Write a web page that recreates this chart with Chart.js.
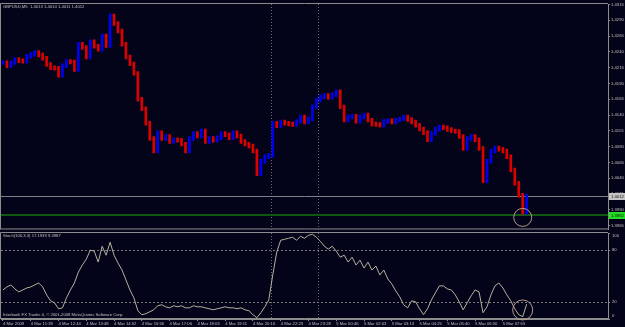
<!DOCTYPE html>
<html>
<head>
<meta charset="utf-8">
<script src="https://cdn.jsdelivr.net/npm/chart.js@4.4.1/dist/chart.umd.min.js"></script>
<style>
  html, body { margin: 0; padding: 0; background: #03031a; }
  #wrap { position: relative; width: 625px; height: 327px; background: #03031a; overflow: hidden; }
  #priceChart { position: absolute; left: 0; top: 0; }
  #stochChart { position: absolute; left: 0; top: 232px; }
</style>
</head>
<body>
<div id="wrap">
  <canvas id="priceChart" width="625" height="233"></canvas>
  <canvas id="stochChart" width="625" height="95"></canvas>
</div>
<script>
// GBPUSD M5 closes, one per slot
const closes = [
  1.4223, 1.4218, 1.4223, 1.4228, 1.4226, 1.4225, 1.4233, 1.4236, 1.4239, 1.4235,
  1.4230, 1.4220, 1.4215, 1.4214, 1.4203, 1.4218, 1.4225, 1.4224, 1.4212, 1.4252,
  1.4247, 1.4232, 1.4256, 1.4249, 1.4244, 1.4265, 1.4250, 1.4297, 1.4285, 1.4273,
  1.4252, 1.4232, 1.4221, 1.4206, 1.4165, 1.4150, 1.4127, 1.4103, 1.4083, 1.4112,
  1.4103, 1.4106, 1.4098, 1.4101, 1.4100, 1.4094, 1.4083, 1.4103, 1.4111, 1.4107,
  1.4115, 1.4098, 1.4103, 1.4100, 1.4104, 1.4111, 1.4109, 1.4104, 1.4112, 1.4107,
  1.4098, 1.4094, 1.4091, 1.4083, 1.4047, 1.4067, 1.4074, 1.4076, 1.4127, 1.4123,
  1.4129, 1.4127, 1.4126, 1.4125, 1.4130, 1.4137, 1.4129, 1.4134, 1.4153, 1.4164,
  1.4169, 1.4171, 1.4168, 1.4172, 1.4177, 1.4153, 1.4132, 1.4137, 1.4138, 1.4130,
  1.4137, 1.4140, 1.4132, 1.4126, 1.4125, 1.4124, 1.4130, 1.4131, 1.4129, 1.4132,
  1.4134, 1.4137, 1.4133, 1.4129, 1.4124, 1.4118, 1.4112, 1.4101, 1.4111, 1.4118,
  1.4121, 1.4120, 1.4117, 1.4115, 1.4114, 1.4106, 1.4087, 1.4103, 1.4106, 1.4101,
  1.4087, 1.4036, 1.4067, 1.4083, 1.4088, 1.4086, 1.4083, 1.4074, 1.4053, 1.4032,
  1.4013, 1.3986, 1.4012
];

// Stochastic(100,3,3) main line
const stochMain = [
  33.8, 37.3, 39.6, 35.0, 31.5, 33.8, 36.1, 37.3, 39.6, 41.9,
  37.3, 28.1, 21.1, 18.8, 11.9, 13.0, 24.6, 33.8, 41.9, 54.6,
  62.7, 69.6, 80.0, 78.9, 66.2, 84.6, 74.2, 89.3, 74.2, 65.0,
  56.9, 45.4, 33.8, 24.6, 9.6, 5.0, 6.1, 8.4, 10.7, 15.4,
  16.5, 14.2, 13.0, 15.4, 14.2, 15.4, 13.0, 13.0, 15.4, 14.2,
  14.2, 13.0, 11.9, 10.7, 11.9, 13.0, 14.2, 13.0, 13.0, 11.9,
  13.0, 10.7, 9.6, 5.0, 1.5, 7.3, 14.2, 22.3, 51.2, 77.7,
  91.6, 92.7, 93.9, 95.0, 91.6, 96.2, 93.9, 97.3, 98.5, 95.0,
  90.4, 84.6, 81.2, 84.6, 78.9, 71.9, 74.2, 66.2, 71.9, 62.7,
  68.5, 59.2, 66.2, 56.9, 61.5, 51.2, 56.9, 46.5, 40.8, 32.7,
  25.8, 16.5, 13.0, 21.1, 20.0, 11.9, 5.0, 11.9, 22.3, 30.4,
  38.5, 38.5, 35.0, 33.8, 28.1, 20.0, 10.7, 18.8, 26.9, 33.8,
  31.5, 7.3, 14.2, 28.1, 38.5, 41.9, 36.1, 28.1, 21.1, 11.9,
  5.0, 2.7, 17.2
];

const timeLabels = [
  '4 Mar 2009', '4 Mar 11:39', '4 Mar 12:44', '4 Mar 13:48', '4 Mar 14:52',
  '4 Mar 15:56', '4 Mar 17:00', '4 Mar 18:05', '4 Mar 19:11', '4 Mar 20:16',
  '4 Mar 22:23', '4 Mar 23:28', '5 Mar 00:46', '5 Mar 02:03', '5 Mar 03:13',
  '5 Mar 04:25', '5 Mar 05:40', '5 Mar 06:50', '5 Mar 07:55'
];
const labelEvery = 7;
const slotCount = 153;

const priceTicks = [1.3965, 1.3990, 1.4015, 1.4040, 1.4065, 1.4090, 1.4115, 1.4140,
                    1.4165, 1.4190, 1.4215, 1.4240, 1.4265, 1.4290, 1.4315];
const stochTicks = [0, 20, 80, 100];
const stochLevels = [20, 80];

const bidPrice = 1.4012;
const supportPrice = 1.3982;
const separatorsAfter = [67, 79];
const priceMark = { index: 131, value: 1.3978 };
const stochMark = { index: 131, value: 10.5 };

const headerText = 'GBPUSD,M5  1.4013 1.4014 1.4011 1.4012';
const stochText = 'Stoch(100,3,3) 17.1939 9.3987';
const copyText = 'Interbank FX Trader 4, \u00a9 2001-2008 MetaQuotes Software Corp.';

const FONT = '"Liberation Sans", Arial, sans-serif';
const SMALL = '4.2px ' + FONT;
const TXT = '#c0c0c0';
const AXIS = '#8c8c8c';

const categories = Array.from({ length: slotCount }, (_, i) =>
  i % labelEvery === 0 ? (timeLabels[i / labelEvery] || '') : '');

const barRanges = closes.map((c, i) => {
  const o = i ? closes[i - 1] : c;
  return [Math.min(o, c) - 0.0003, Math.max(o, c) + 0.0003];
});
const barColors = closes.map((c, i) => (i && c < closes[i - 1]) ? '#dd0000' : '#0000ee');

function drawSeparators(chart) {
  const ctx = chart.ctx, x = chart.scales.x, a = chart.chartArea;
  ctx.save();
  ctx.strokeStyle = '#6e6e5c';
  ctx.setLineDash([1, 2]);
  separatorsAfter.forEach(i => {
    const px = Math.round((x.getPixelForValue(i) + x.getPixelForValue(i + 1)) / 2) + 0.5;
    ctx.beginPath(); ctx.moveTo(px, a.top); ctx.lineTo(px, a.bottom); ctx.stroke();
  });
  ctx.restore();
}

function drawFrame(chart) {
  const ctx = chart.ctx, a = chart.chartArea;
  ctx.save();
  ctx.strokeStyle = AXIS;
  ctx.lineWidth = 1;
  ctx.beginPath();
  ctx.moveTo(a.left - 0.5, a.top - 0.5); ctx.lineTo(a.right, a.top - 0.5);
  ctx.moveTo(a.left - 0.5, a.top - 0.5); ctx.lineTo(a.left - 0.5, a.bottom);
  ctx.moveTo(a.left - 0.5, a.bottom - 0.5); ctx.lineTo(a.right, a.bottom - 0.5);
  ctx.stroke();
  ctx.restore();
}

function drawRing(chart, mark, yKey, r) {
  const ctx = chart.ctx;
  const px = chart.scales.x.getPixelForValue(mark.index);
  const py = chart.scales[yKey].getPixelForValue(mark.value);
  ctx.save();
  ctx.strokeStyle = '#b49c86';
  ctx.lineWidth = 1;
  ctx.beginPath(); ctx.arc(px, py, r, 0, Math.PI * 2); ctx.stroke();
  ctx.restore();
}

const priceOverlay = {
  id: 'priceOverlay',
  beforeDatasetsDraw(chart) {
    const ctx = chart.ctx, a = chart.chartArea, y = chart.scales.y;
    drawSeparators(chart);
    ctx.save();
    const yb = Math.round(y.getPixelForValue(bidPrice)) + 0.5;
    ctx.strokeStyle = '#7c8088';
    ctx.beginPath(); ctx.moveTo(a.left, yb); ctx.lineTo(a.right, yb); ctx.stroke();
    const ys = Math.round(y.getPixelForValue(supportPrice));
    ctx.strokeStyle = '#0f5a10';
    ctx.lineWidth = 2;
    ctx.beginPath(); ctx.moveTo(a.left, ys); ctx.lineTo(a.right, ys); ctx.stroke();
    ctx.restore();
  },
  afterDraw(chart) {
    const ctx = chart.ctx, a = chart.chartArea, y = chart.scales.y;
    drawFrame(chart);
    drawRing(chart, priceMark, 'y', 9);
    ctx.save();
    ctx.font = SMALL;
    ctx.textBaseline = 'middle';
    ctx.fillStyle = TXT;
    ctx.fillText(headerText, 3, a.top + 3);
    [[bidPrice, '#c4c4c4'], [supportPrice, '#22e022']].forEach(([v, bg]) => {
      const py = Math.round(y.getPixelForValue(v));
      ctx.fillStyle = bg;
      ctx.fillRect(a.right + 1, py - 3, 624 - a.right, 7);
      ctx.fillStyle = '#101010';
      ctx.fillText(v.toFixed(4), a.right + 3, py + 0.5);
    });
    ctx.restore();
  }
};

const stochOverlay = {
  id: 'stochOverlay',
  beforeDatasetsDraw(chart) {
    const ctx = chart.ctx, a = chart.chartArea, y = chart.scales.y;
    drawSeparators(chart);
    ctx.save();
    ctx.strokeStyle = '#7a7a7a';
    ctx.setLineDash([2, 2]);
    stochLevels.forEach(v => {
      const py = Math.round(y.getPixelForValue(v)) + 0.5;
      ctx.beginPath(); ctx.moveTo(a.left, py); ctx.lineTo(a.right, py); ctx.stroke();
    });
    ctx.restore();
  },
  afterDraw(chart) {
    const ctx = chart.ctx, a = chart.chartArea, y = chart.scales.y;
    drawFrame(chart);
    drawRing(chart, stochMark, 'y', 10);
    ctx.save();
    ctx.font = SMALL;
    ctx.textBaseline = 'middle';
    ctx.fillStyle = TXT;
    ctx.fillText(stochText, 3, a.top + 3);
    ctx.fillText(copyText, 3, a.bottom - 4);
    ctx.strokeStyle = AXIS;
    stochTicks.forEach(v => {
      const raw = y.getPixelForValue(v);
      const py = Math.min(Math.max(raw, a.top + 3), a.bottom - 3);
      ctx.beginPath(); ctx.moveTo(a.right, Math.round(raw) + 0.5); ctx.lineTo(a.right + 2, Math.round(raw) + 0.5); ctx.stroke();
      ctx.fillText(String(v), a.right + 4, py);
    });
    ctx.restore();
  }
};

new Chart(document.getElementById('priceChart'), {
  type: 'bar',
  data: {
    labels: categories,
    datasets: [{
      data: barRanges,
      backgroundColor: barColors,
      borderWidth: 0,
      barThickness: 2
    }]
  },
  options: {
    responsive: false,
    animation: false,
    events: [],
    layout: { padding: { left: 1, top: 4, right: 0, bottom: 1 } },
    plugins: { legend: { display: false }, tooltip: { enabled: false } },
    scales: {
      x: { display: false, offset: true },
      y: {
        position: 'right',
        min: 1.39589,
        max: 1.43158,
        afterBuildTicks: s => { s.ticks = priceTicks.map(v => ({ value: v })); },
        afterFit: s => { s.width = 17; },
        ticks: {
          color: TXT,
          font: { family: FONT, size: 4.2 },
          padding: 1,
          callback: v => Number(v).toFixed(4)
        },
        grid: { drawOnChartArea: false, tickLength: 2, color: AXIS },
        border: { color: AXIS }
      }
    }
  },
  plugins: [priceOverlay]
});

new Chart(document.getElementById('stochChart'), {
  type: 'line',
  data: {
    labels: categories,
    datasets: [{
      data: stochMain,
      borderColor: '#b4b49e',
      borderWidth: 1,
      pointRadius: 0,
      tension: 0
    }]
  },
  options: {
    responsive: false,
    animation: false,
    events: [],
    layout: { padding: { left: 1, top: 1, right: 0, bottom: 0 } },
    plugins: { legend: { display: false }, tooltip: { enabled: false } },
    scales: {
      x: {
        offset: true,
        afterBuildTicks: s => { s.ticks = s.ticks.filter(t => categories[t.value]); },
        afterFit: s => { s.height = 8; },
        ticks: {
          autoSkip: false,
          maxRotation: 0,
          align: 'start',
          color: TXT,
          padding: 0,
          font: { family: FONT, size: 4.2 }
        },
        grid: { drawOnChartArea: false, offset: false, tickLength: 2, color: AXIS },
        border: { color: AXIS }
      },
      y: {
        position: 'right',
        min: 0,
        max: 100,
        afterFit: s => { s.width = 17; },
        ticks: { display: false },
        grid: { display: false },
        border: { color: AXIS }
      }
    }
  },
  plugins: [stochOverlay]
});
</script>
</body>
</html>
